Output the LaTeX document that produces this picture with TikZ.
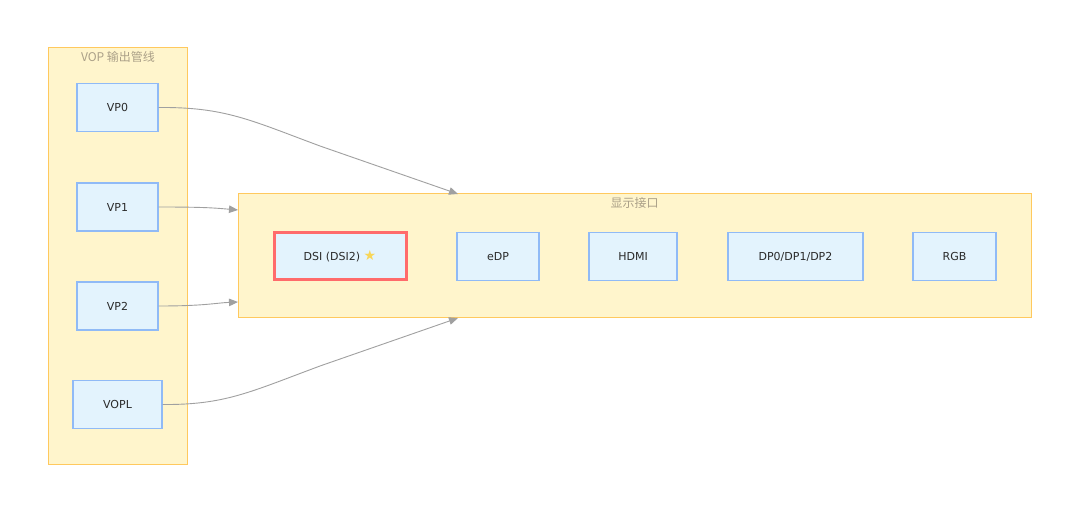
\documentclass[tikz,border=0pt]{standalone}
\usepackage{fontspec}
\setmainfont{DejaVu Sans}
\newfontfamily\cjk{Noto Sans CJK SC}
\newfontfamily\symf{DejaVu Sans}
\usetikzlibrary{arrows.meta}
\definecolor{clfill}{HTML}{FFF5CC}
\definecolor{cldraw}{HTML}{FFC95E}
\definecolor{ndfill}{HTML}{E3F3FD}
\definecolor{nddraw}{HTML}{90BAF6}
\definecolor{hlred}{HTML}{FF6B6B}
\definecolor{txt}{HTML}{2A2A2A}
\definecolor{ttl}{HTML}{ABA088}
\definecolor{edge}{HTML}{A0A0A0}
\definecolor{staryel}{HTML}{F8D658}
\tikzset{
  cluster/.style={draw=cldraw, fill=clfill, line width=1pt},
  boxnode/.style={draw=nddraw, fill=ndfill, line width=1.3pt, text=txt, font=\fontsize{11}{13}\selectfont},
  hlnode/.style={draw=hlred, fill=ndfill, line width=3pt, text=txt, font=\fontsize{11}{13}\selectfont},
  ctitle/.style={text=ttl, font=\cjk\fontsize{12}{14}\selectfont},
  conn/.style={draw=edge, line width=0.9pt, -{Triangle[length=9pt,width=7.5pt]}}
}
\begin{document}
\begin{tikzpicture}[x=1pt,y=-1pt]
\useasboundingbox (0,0) rectangle (1080,513);
\fill[white] (0,0) rectangle (1080,513);
% clusters
\path[cluster] (48,48) rectangle (187,464);
\node[ctitle] (t1) at (118,57) {VOP 输出管线};
\path[cluster] (238,194) rectangle (1031,318);
\coordinate (dtop) at (458,194);
\coordinate (dbot) at (458,318);
\coordinate (dl1) at (238,210);
\coordinate (dl2) at (238,302);
\node[ctitle] (t2) at (634.5,203) {显示接口};
% left nodes
\node[boxnode, minimum width=81pt, minimum height=48pt] (vp0) at (117.5,107.5) {VP0};
\node[boxnode, minimum width=81pt, minimum height=48pt] (vp1) at (117.5,207) {VP1};
\node[boxnode, minimum width=81pt, minimum height=48pt] (vp2) at (117.5,306) {VP2};
\node[boxnode, minimum width=89pt, minimum height=48pt] (vopl) at (117.5,404.5) {VOPL};
% right nodes
\node[hlnode, minimum width=132pt, minimum height=47pt] (dsi) at (340,256.5) {DSI (DSI2)\ {\symf\fontsize{14}{14}\selectfont\color{staryel}★}};
\node[boxnode, minimum width=82pt, minimum height=48pt] (edp) at (498,256.5) {eDP};
\node[boxnode, minimum width=88pt, minimum height=48pt] (hdmi) at (633,256.5) {HDMI};
\node[boxnode, minimum width=135pt, minimum height=48pt] (dp) at (795.5,256.5) {DP0/DP1/DP2};
\node[boxnode, minimum width=83pt, minimum height=48pt] (rgb) at (954.5,256.5) {RGB};
% connectors
\draw[conn] (vp0.east) .. controls (225,107) and (250,120) .. (320,146) -- (dtop);
\draw[conn] (vp1.east) .. controls (205,207) and (215,208) .. (dl1);
\draw[conn] (vp2.east) .. controls (205,306) and (215,303) .. (dl2);
\draw[conn] (vopl.east) .. controls (225,405) and (250,392) .. (320,366) -- (dbot);
\end{tikzpicture}
\end{document}
